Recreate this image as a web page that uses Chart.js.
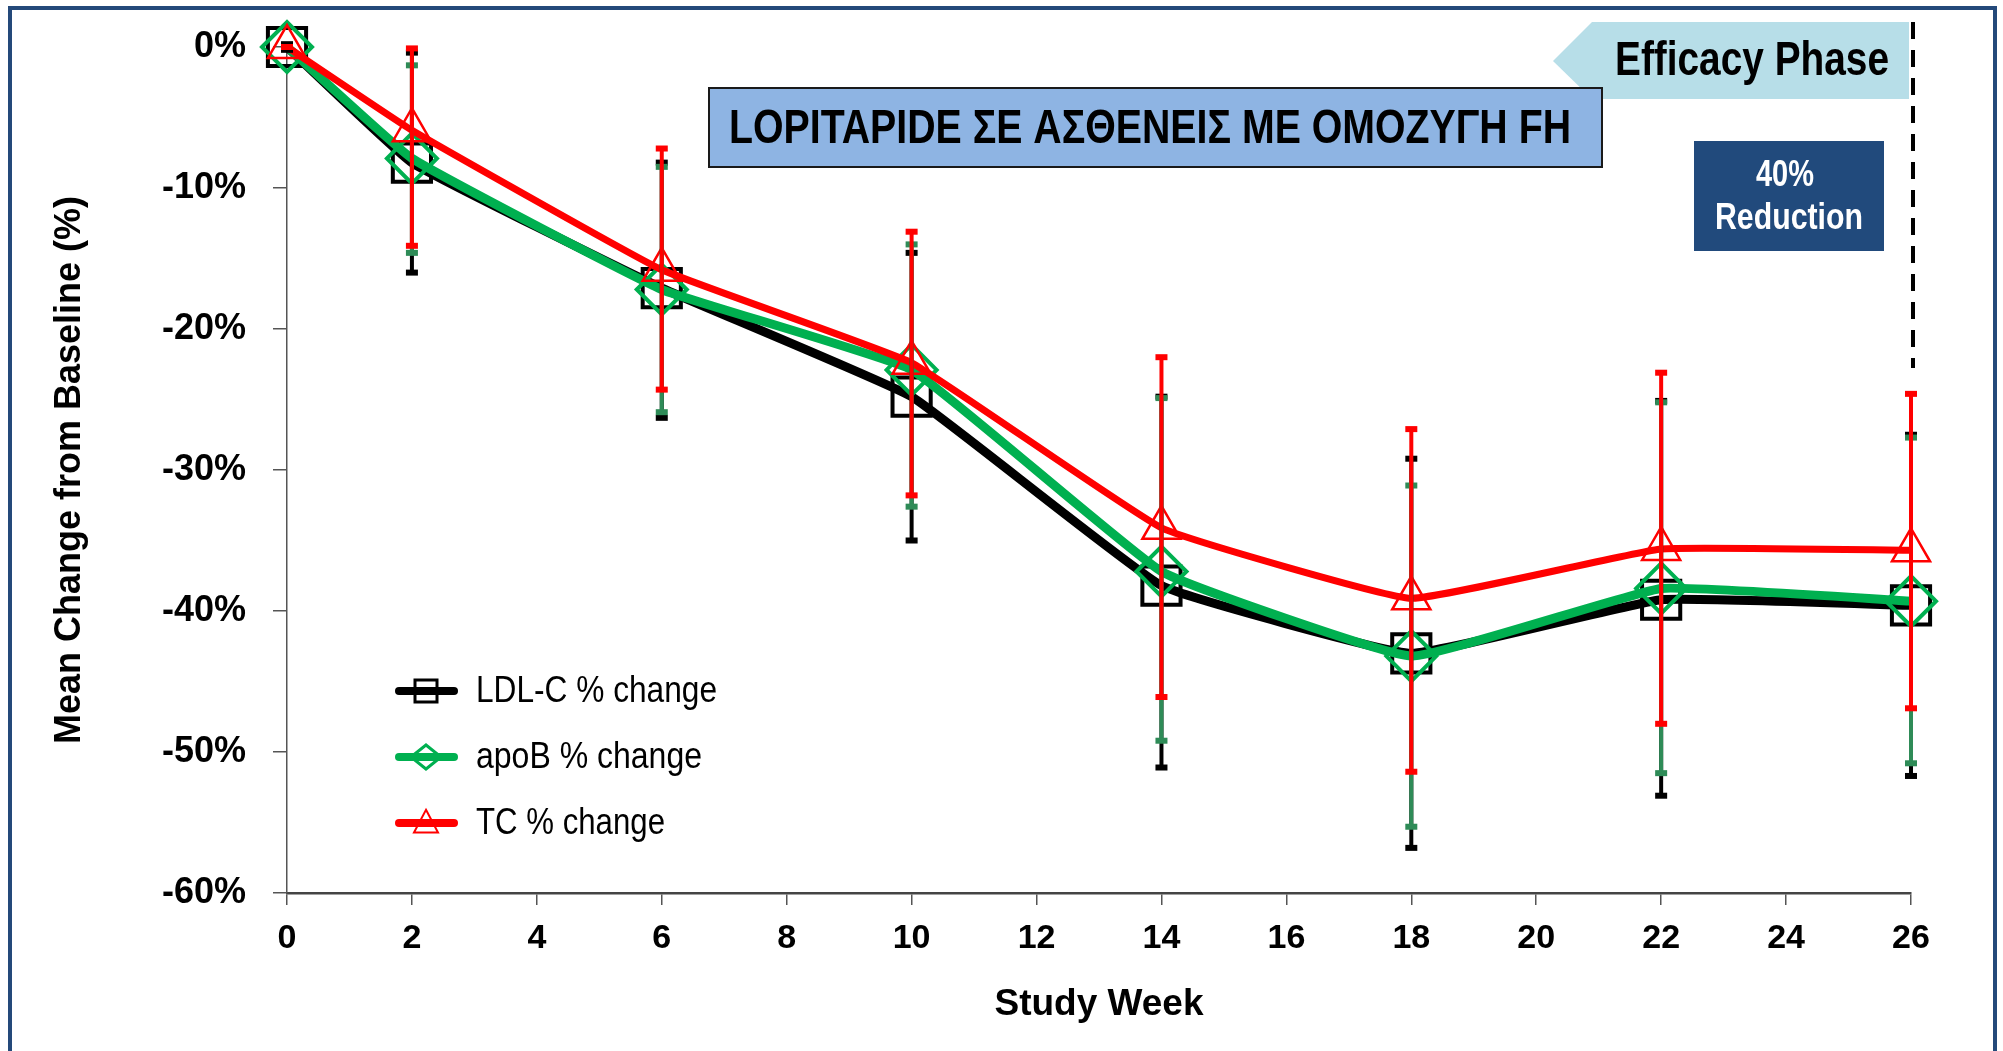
<!DOCTYPE html>
<html>
<head>
<meta charset="utf-8">
<script src="https://cdn.jsdelivr.net/npm/chart.js@4.4.1/dist/chart.umd.min.js"></script>
<style>
  html, body { margin: 0; padding: 0; background: #fff; }
  #wrap { width: 2003px; height: 1051px; position: relative; }
</style>
</head>
<body>
<div id="wrap"><canvas id="lipidChart" width="2003" height="1051"></canvas></div>
<script>
// values (percent change from baseline)
var weeks = [0, 2, 6, 10, 14, 18, 22, 26];

var ldlMean = [0, -8.2, -17.1, -24.8, -38.2, -43.0, -39.2, -39.6];
var ldlHigh = [0.2, -0.4, -8.2, -14.6, -24.8, -29.2, -25.1, -27.5];
var ldlLow  = [-0.2, -16.0, -26.3, -35.0, -51.1, -56.8, -53.1, -51.7];

var apobMean = [0, -7.9, -17.2, -22.9, -37.2, -43.2, -38.4, -39.3];
var apobHigh = [0, -1.3, -8.5, -14.0, -24.9, -31.1, -25.2, -27.7];
var apobLow  = [0, -14.6, -25.9, -32.6, -49.2, -55.3, -51.5, -50.8];

var tcMean = [0, -5.9, -15.8, -22.4, -34.1, -39.1, -35.6, -35.7];
var tcHigh = [0, -0.1, -7.2, -13.1, -22.0, -27.1, -23.1, -24.6];
var tcLow  = [0, -14.1, -24.3, -31.8, -46.1, -51.4, -48.0, -46.9];

var xTicks = [0, 2, 4, 6, 8, 10, 12, 14, 16, 18, 20, 22, 24, 26];
var yTicks = [0, -10, -20, -30, -40, -50, -60];

var seriesNames = ["LDL-C % change", "apoB % change", "TC % change"];
var titleText = "LOPITAPIDE ΣΕ ΑΣΘΕΝΕΙΣ ΜΕ ΟΜΟΖΥΓΗ FH";
var phaseText = "Efficacy Phase";
var reductionText = ["40%", "Reduction"];

var FONT = "'Liberation Sans Narrow', 'Arial Narrow', 'Liberation Sans', Arial, sans-serif";

function toPoints(means) {
  return weeks.map(function (w, i) { return { x: w, y: means[i] }; });
}

// narrow text: squeeze to the width it has in the reference
function narrowText(ctx, text, x, y, width) {
  var w = ctx.measureText(text).width;
  ctx.fillText(text, x, y, Math.min(w, width));
}

// error bars, drawn black first, then green, red on top
var errSets = [
  { color: "#000000", high: ldlHigh, low: ldlLow },
  { color: "#2E8B57", high: apobHigh, low: apobLow },
  { color: "#FF0000", high: tcHigh, low: tcLow }
];

var errorBars = {
  id: "errorBars",
  afterDatasetsDraw: function (chart) {
    var ctx = chart.ctx, xs = chart.scales.x, ys = chart.scales.y;
    ctx.save();
    errSets.forEach(function (s) {
      ctx.strokeStyle = s.color;
      ctx.fillStyle = s.color;
      ctx.lineWidth = 4;
      for (var i = 0; i < weeks.length; i++) {
        var x = xs.getPixelForValue(weeks[i]);
        var yh = ys.getPixelForValue(s.high[i]);
        var yl = ys.getPixelForValue(s.low[i]);
        ctx.beginPath();
        ctx.moveTo(x, yh);
        ctx.lineTo(x, yl);
        ctx.stroke();
        ctx.fillRect(x - 6, yh - 3, 12, 6);
        ctx.fillRect(x - 6, yl - 3, 12, 6);
      }
    });
    ctx.restore();
  }
};

// frame, phase arrow, title box, reduction box
var decorations = {
  id: "decorations",
  beforeDatasetsDraw: function (chart) {
    var ctx = chart.ctx, xs = chart.scales.x;
    ctx.save();

    // outer frame
    ctx.strokeStyle = "#24497A";
    ctx.lineWidth = 4;
    ctx.strokeRect(10, 8, 1985, 1100);

    // efficacy phase arrow
    ctx.fillStyle = "#B7DEE8";
    ctx.beginPath();
    ctx.moveTo(1553, 61);
    ctx.lineTo(1592, 22);
    ctx.lineTo(1909, 22);
    ctx.lineTo(1909, 99);
    ctx.lineTo(1592, 99);
    ctx.closePath();
    ctx.fill();
    ctx.fillStyle = "#000";
    ctx.font = "bold 48px " + FONT;
    ctx.textAlign = "center";
    ctx.textBaseline = "middle";
    narrowText(ctx, phaseText, 1752, 62, 274);

    // dashed line at the end of the efficacy phase
    var xd = xs.getPixelForValue(26) + 2;
    ctx.strokeStyle = "#000";
    ctx.lineWidth = 4;
    ctx.setLineDash([17, 11]);
    ctx.beginPath();
    ctx.moveTo(xd, 22);
    ctx.lineTo(xd, 368);
    ctx.stroke();
    ctx.setLineDash([]);

    // 40% reduction box
    ctx.fillStyle = "#214A7C";
    ctx.fillRect(1694, 141, 190, 110);
    ctx.fillStyle = "#fff";
    ctx.font = "bold 37px " + FONT;
    narrowText(ctx, reductionText[0], 1785, 176, 58);
    narrowText(ctx, reductionText[1], 1789, 219, 148);

    // title box
    ctx.fillStyle = "#8EB4E3";
    ctx.fillRect(709, 88, 893, 79);
    ctx.strokeStyle = "#1a1a1a";
    ctx.lineWidth = 2;
    ctx.strokeRect(709, 88, 893, 79);
    ctx.fillStyle = "#000";
    ctx.font = "bold 49px " + FONT;
    narrowText(ctx, titleText, 1150, 129, 842);

    ctx.restore();
  }
};

function drawMarker(ctx, style, x, y, r) {
  ctx.beginPath();
  if (style === "rect") {
    ctx.rect(x - r, y - r, 2 * r, 2 * r);
  } else if (style === "rectRot") {
    ctx.moveTo(x - r * 1.25, y);
    ctx.lineTo(x, y - r);
    ctx.lineTo(x + r * 1.25, y);
    ctx.lineTo(x, y + r);
    ctx.closePath();
  } else {
    ctx.moveTo(x, y - r * 1.1);
    ctx.lineTo(x + r, y + r * 0.8);
    ctx.lineTo(x - r, y + r * 0.8);
    ctx.closePath();
  }
  ctx.stroke();
}

var legendRows = [
  { color: "#000000", style: "rect", r: 11, border: 3, width: 241 },
  { color: "#00B050", style: "rectRot", r: 12, border: 3, width: 226 },
  { color: "#FF0000", style: "triangle", r: 12, border: 2, width: 189 }
];

var customLegend = {
  id: "customLegend",
  afterDatasetsDraw: function (chart) {
    var ctx = chart.ctx;
    ctx.save();
    legendRows.forEach(function (row, i) {
      var y = 691 + i * 66;
      ctx.strokeStyle = row.color;
      ctx.lineCap = "round";
      ctx.lineWidth = 8;
      ctx.beginPath();
      ctx.moveTo(399, y);
      ctx.lineTo(454, y);
      ctx.stroke();
      ctx.lineCap = "butt";
      ctx.lineWidth = row.border;
      drawMarker(ctx, row.style, 426, y, row.r);
      ctx.fillStyle = "#000";
      ctx.font = "37px " + FONT;
      ctx.textAlign = "left";
      ctx.textBaseline = "middle";
      narrowText(ctx, seriesNames[i], 476, y + 1, row.width);
    });
    ctx.restore();
  }
};

var data = {
  datasets: [
    {
      label: seriesNames[0],
      data: toPoints(ldlMean),
      borderColor: "#000000",
      borderWidth: 9,
      pointStyle: "rect",
      pointRadius: 27,
      pointBorderWidth: 4,
      pointBorderColor: "#000000",
      pointBackgroundColor: "rgba(255,255,255,0)",
      tension: 0.1,
      clip: false,
      order: 3
    },
    {
      label: seriesNames[1],
      data: toPoints(apobMean),
      borderColor: "#00B050",
      borderWidth: 9,
      pointStyle: "rectRot",
      pointRadius: 25,
      pointBorderWidth: 4,
      pointBorderColor: "#00B050",
      pointBackgroundColor: "rgba(255,255,255,0)",
      tension: 0.1,
      clip: false,
      order: 2
    },
    {
      label: seriesNames[2],
      data: toPoints(tcMean),
      borderColor: "#FF0000",
      borderWidth: 7,
      pointStyle: "triangle",
      pointRadius: 22,
      pointBorderWidth: 2.5,
      pointBorderColor: "#FF0000",
      pointBackgroundColor: "rgba(255,255,255,0)",
      tension: 0.1,
      clip: false,
      order: 1
    }
  ]
};

var options = {
  responsive: false,
  animation: false,
  devicePixelRatio: 1,
  layout: { padding: { left: 0, top: 47, right: 92, bottom: 0 } },
  plugins: {
    legend: { display: false },
    tooltip: { enabled: false }
  },
  scales: {
    x: {
      type: "linear",
      min: 0,
      max: 26,
      afterBuildTicks: function (scale) {
        scale.ticks = xTicks.map(function (v) { return { value: v }; });
      },
      afterFit: function (scale) {
        scale.height = 158;
        scale.paddingLeft = 0;
        scale.paddingRight = 0;
      },
      grid: { drawOnChartArea: false, drawTicks: true, tickLength: 12, color: "#555", lineWidth: 1.5 },
      border: { display: true, color: "#444", width: 2.5 },
      ticks: {
        color: "#000",
        padding: 13,
        font: { family: FONT, size: 34, weight: "bold" }
      },
      title: {
        display: true,
        text: "Study Week",
        color: "#000",
        padding: { top: 0, bottom: 24 },
        font: { family: FONT, size: 37, weight: "bold" }
      }
    },
    y: {
      type: "linear",
      min: -60,
      max: 0,
      afterBuildTicks: function (scale) {
        scale.ticks = yTicks.map(function (v) { return { value: v }; });
      },
      afterFit: function (scale) {
        scale.width = 287;
        scale.paddingTop = 0;
        scale.paddingBottom = 0;
      },
      grid: { drawOnChartArea: false, drawTicks: true, tickLength: 14, color: "#555", lineWidth: 1.5 },
      border: { display: true, color: "#555", width: 1.5 },
      ticks: {
        color: "#000",
        padding: 27,
        font: { family: FONT, size: 36, weight: "bold" },
        callback: function (v) { return v + "%"; }
      },
      title: {
        display: true,
        text: "Mean Change from Baseline (%)",
        color: "#000",
        padding: { top: 48, bottom: 0 },
        font: { family: FONT, size: 36, weight: "bold" }
      }
    }
  }
};

var ctx = document.getElementById("lipidChart");
var chart = new Chart(ctx, {
  type: "line",
  data: data,
  options: options,
  plugins: [decorations, errorBars, customLegend]
});
</script>
</body>
</html>
